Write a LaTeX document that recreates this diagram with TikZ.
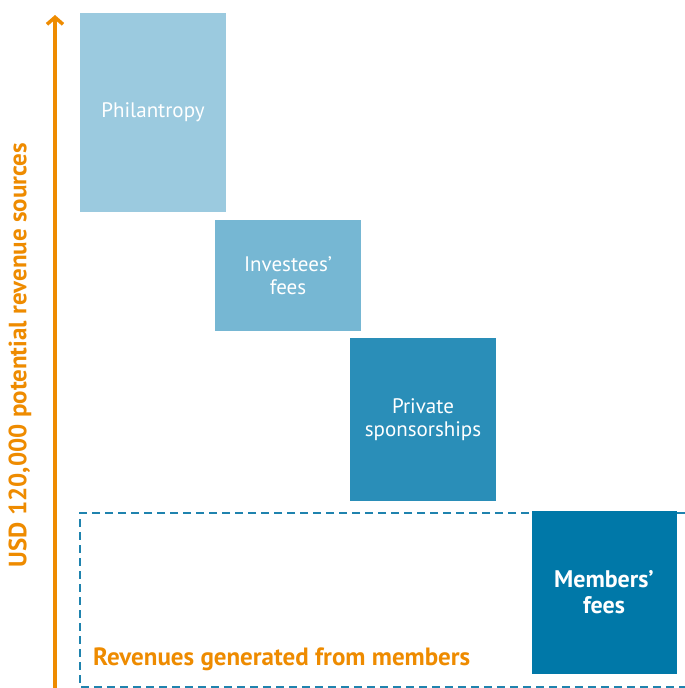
\documentclass[tikz,border=0pt]{standalone}
\usepackage{fontspec}
\setmainfont{PT Sans}
\usepackage{tikz}
\usetikzlibrary{arrows.meta}
\usetikzlibrary{positioning}

\definecolor{orangeaxis}{HTML}{EE8B00}
\definecolor{blueone}{HTML}{9BCADF}
\definecolor{bluetwo}{HTML}{76B7D3}
\definecolor{bluethree}{HTML}{2A8EB8}
\definecolor{bluefour}{HTML}{0078A8}
\definecolor{bluedash}{HTML}{1F83AE}

\begin{document}
\begin{tikzpicture}[x=1pt, y=-1pt,
				source/.style={rectangle, inner sep=0pt, text=white, align=center, minimum width=146pt, font=\fontsize{21}{23}\selectfont},
				orangelabel/.style={text=orangeaxis, inner sep=0pt, font=\fontsize{25}{27}\selectfont\bfseries},
				every text node part/.style={align=center}]
				\useasboundingbox (0,0) rectangle (685,688);

				% dashed frame for member revenues, open on the right
				\draw[bluedash, line width=2pt, dash pattern=on 8pt off 5pt] (685,513) -- (80,513) -- (80,687) -- (685,687);

				\node[source, fill=blueone, minimum height=199pt](philanthropy) at (153,112.5) {Philantropy};
				\node[source, fill=bluetwo, minimum height=111pt](investees) at (288,275.5) {Investees'\\fees};
				\node[source, fill=bluethree, minimum height=163pt](sponsors) at (423,419.5) {Private\\sponsorships};
				\node[source, fill=bluefour, minimum width=145pt, minimum height=163pt, font=\fontsize{24}{26}\selectfont\bfseries](members) at (604,592.5) {Members'\\fees};

				\node[orangelabel, anchor=base west](memberlabel) at (93,665) {Revenues generated from members};

				% vertical axis
				\coordinate (axisbottom) at (55,688);
				\coordinate (axistop) at (55,15);
				\draw[-{Straight Barb[length=7pt, width=16pt]}, orangeaxis, line width=3.5pt] (axisbottom) -- (axistop);
				\node[orangelabel, rotate=90](axislabel) at (20,355) {USD 120,000 potential revenue sources};
\end{tikzpicture}
\end{document}
